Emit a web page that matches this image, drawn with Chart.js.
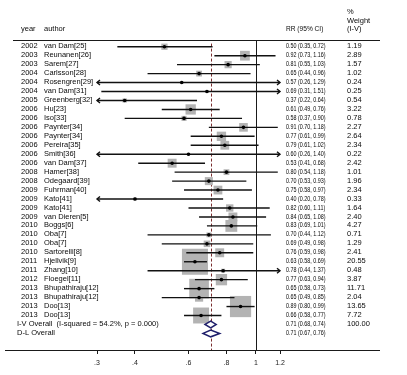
<!DOCTYPE html>
<html>
<head>
<meta charset="utf-8">
<script src="https://cdn.jsdelivr.net/npm/chart.js@4.4.1/dist/chart.umd.min.js"></script>
<style>
html,body{margin:0;padding:0;background:#fff;}
canvas{display:block;}
</style>
</head>
<body>
<canvas id="c" width="407" height="375" style="width:407px;height:375px"></canvas>
<script>
// ---- data ----
const years = ['2002','2003','2003','2004','2004','2004','2005','2006','2006','2006','2006','2006','2006','2006','2008','2008','2009','2009','2009','2009','2010','2010','2010','2010','2011','2011','2012','2013','2013','2013','2013'];
const authors = ['van Dam[25]','Reunanen[26]','Sarem[27]','Carlsson[28]','Rosengren[29]','van Dam[31]','Greenberg[32]','Hu[23]','Iso[33]','Paynter[34]','Paynter[34]','Pereira[35]','Smith[36]','van Dam[37]','Hamer[38]','Odegaard[39]','Fuhrman[40]','Kato[41]','Kato[41]','van Dieren[5]','Boggs[6]','Oba[7]','Oba[7]','Sartorelli[8]','Hjellvik[9]','Zhang[10]','Floegel[11]','Bhupathiraju[12]','Bhupathiraju[12]','Doo[13]','Doo[13]'];
const rr = [0.50,0.92,0.81,0.65,0.57,0.69,0.37,0.61,0.58,0.91,0.77,0.79,0.60,0.53,0.80,0.70,0.75,0.40,0.82,0.84,0.83,0.70,0.69,0.76,0.63,0.78,0.77,0.65,0.65,0.89,0.66];
const lo = [0.35,0.73,0.55,0.44,0.26,0.31,0.22,0.49,0.37,0.70,0.61,0.61,0.26,0.41,0.54,0.53,0.58,0.20,0.60,0.65,0.69,0.44,0.49,0.59,0.58,0.44,0.63,0.58,0.49,0.80,0.58];
const hi = [0.72,1.16,1.03,0.96,1.29,1.51,0.64,0.76,0.90,1.18,0.99,1.02,1.40,0.68,1.18,0.93,0.97,0.78,1.11,1.08,1.01,1.12,0.98,0.98,0.69,1.37,0.94,0.73,0.85,0.99,0.77];
const weights = [1.19,2.89,1.57,1.02,0.24,0.25,0.54,3.22,0.78,2.27,2.64,2.34,0.22,2.42,1.01,1.96,2.34,0.33,1.64,2.40,4.27,0.71,1.29,2.41,20.55,0.48,3.87,11.71,2.04,13.65,7.72];
const overallLabels = ['I-V Overall  (I-squared = 54.2%, p = 0.000)','D-L Overall'];
const overallRR = [0.71,0.71];
const overallLo = [0.68,0.67];
const overallHi = [0.74,0.76];
const overallWeight = ['100.00',''];
const tickValues = [0.3,0.4,0.6,0.8,1,1.2];
const tickLabels = ['.3','.4','.6','.8','1','1.2'];
const axisMin = 0.3, axisMax = 1.2;

// ---- presentation ----
const FONT = '7.5px "Liberation Sans", Arial, sans-serif';
const TXT = '#0a0a0a';
const nStudies = rr.length;

const dotData = rr.map((v,i)=>({x:v,y:i}));
const sqData = rr.map((v,i)=>({x:v,y:i}));
const sqRadius = weights.map(w => 5.74*Math.sqrt(w)/Math.SQRT2);

function fmt(v){return v.toFixed(2);}

const forestPlugin = {
  id:'forest',
  beforeDatasetsDraw(chart){
    const ctx = chart.ctx, xs = chart.scales.x, ys = chart.scales.y;
    const top = chart.chartArea.top, bot = chart.chartArea.bottom;
    ctx.save();
    ctx.strokeStyle = '#1a1a1a'; ctx.lineWidth = 1;
    ctx.beginPath(); ctx.moveTo(13, top+0.5); ctx.lineTo(380, top+0.5); ctx.stroke();
    ctx.beginPath(); ctx.moveTo(5, bot+0.5); ctx.lineTo(380, bot+0.5); ctx.stroke();
    const x1 = Math.round(xs.getPixelForValue(1))+0.5;
    ctx.beginPath(); ctx.moveTo(x1, top); ctx.lineTo(x1, bot); ctx.stroke();
    const xo = Math.round(xs.getPixelForValue(overallRR[0]))+0.5;
    ctx.strokeStyle = '#7a2e2e'; ctx.setLineDash([3,2]);
    ctx.beginPath(); ctx.moveTo(xo, ys.getPixelForValue(-0.35)); ctx.lineTo(xo, bot); ctx.stroke();
    ctx.setLineDash([]);
    ctx.fillStyle = TXT; ctx.font = FONT; ctx.textBaseline = 'middle'; ctx.textAlign = 'left';
    ctx.fillText('year', 21, 29);
    ctx.fillText('author', 44, 29);
    ctx.save(); ctx.translate(286,29); ctx.scale(0.88,1); ctx.fillText('RR (95% CI)',0,0); ctx.restore();
    ctx.fillText('%', 347, 12);
    ctx.fillText('Weight', 347, 20.5);
    ctx.fillText('(I-V)', 347, 29);
    for(let i=0;i<nStudies;i++){
      const y = ys.getPixelForValue(i) - 0.5;
      ctx.fillText(years[i], 21, y);
      ctx.fillText(authors[i], 44, y);
      ctx.save(); ctx.translate(286,y); ctx.scale(0.72,1);
      ctx.fillText(fmt(rr[i])+' ('+fmt(lo[i])+', '+fmt(hi[i])+')',0,0); ctx.restore();
      ctx.fillText(fmt(weights[i]), 347, y);
    }
    for(let j=0;j<2;j++){
      const y = ys.getPixelForValue(nStudies+j) - 0.5;
      ctx.fillText(overallLabels[j], 17, y);
      ctx.save(); ctx.translate(286,y); ctx.scale(0.72,1);
      ctx.fillText(fmt(overallRR[j])+' ('+fmt(overallLo[j])+', '+fmt(overallHi[j])+')',0,0); ctx.restore();
      if(overallWeight[j]) ctx.fillText(overallWeight[j], 347, y);
    }
    ctx.restore();
  },
  afterDatasetDraw(chart, args){
    if(args.index !== 1) return;
    const ctx = chart.ctx, xs = chart.scales.x, ys = chart.scales.y;
    ctx.save();
    ctx.strokeStyle = '#111'; ctx.lineWidth = 1.4; ctx.lineCap = 'butt';
    for(let i=0;i<nStudies;i++){
      const y = ys.getPixelForValue(i);
      const a = xs.getPixelForValue(Math.max(lo[i],axisMin));
      const b = xs.getPixelForValue(Math.min(hi[i],axisMax));
      ctx.beginPath(); ctx.moveTo(a,y); ctx.lineTo(b,y); ctx.stroke();
      if(lo[i] < axisMin){
        ctx.beginPath(); ctx.moveTo(a+3,y-2.5); ctx.lineTo(a,y); ctx.lineTo(a+3,y+2.5); ctx.stroke();
      }
      if(hi[i] > axisMax){
        ctx.beginPath(); ctx.moveTo(b-3,y-2.5); ctx.lineTo(b,y); ctx.lineTo(b-3,y+2.5); ctx.stroke();
      }
    }
    ctx.restore();
  },
  afterDatasetsDraw(chart){
    const ctx = chart.ctx, xs = chart.scales.x, ys = chart.scales.y;
    ctx.save();
    ctx.strokeStyle = '#1f1f6b'; ctx.lineWidth = 1.5; ctx.fillStyle = '#fff';
    for(let j=0;j<2;j++){
      const y = ys.getPixelForValue(nStudies+j);
      const a = xs.getPixelForValue(overallLo[j]);
      const c = xs.getPixelForValue(overallRR[j]);
      const b = xs.getPixelForValue(overallHi[j]);
      ctx.beginPath(); ctx.moveTo(a,y); ctx.lineTo(c,y-3.4); ctx.lineTo(b,y); ctx.lineTo(c,y+3.4); ctx.closePath();
      ctx.fill(); ctx.stroke();
    }
    ctx.restore();
  }
};

new Chart(document.getElementById('c'), {
  type:'scatter',
  data:{datasets:[
    {label:'estimate', data:dotData, pointStyle:'circle', pointRadius:1.8, backgroundColor:'#000', borderColor:'#000', borderWidth:0},
    {label:'weight', data:sqData, pointStyle:'rect', pointRadius:sqRadius, backgroundColor:'#b3b3b3', borderWidth:0}
  ]},
  options:{
    responsive:false, animation:false, devicePixelRatio:1, events:[],
    layout:{padding:{left:97, right:127, top:40, bottom:0}},
    plugins:{legend:{display:false}, tooltip:{enabled:false}},
    scales:{
      x:{type:'logarithmic', min:axisMin, max:axisMax,
        afterBuildTicks:(axis)=>{axis.ticks = tickValues.map(v=>({value:v}));},
        afterFit:(s)=>{s.height = 25;},
        grid:{display:true, drawOnChartArea:false, drawTicks:true, tickLength:4, color:'#1a1a1a', lineWidth:1},
        border:{display:false},
        ticks:{autoSkip:false, maxRotation:0, padding:5, color:'#222', font:{family:'"Liberation Sans", Arial, sans-serif', size:7},
          callback:(v,i)=>tickLabels[i]}
      },
      y:{type:'linear', reverse:true, min:-0.75, max:33.85, display:false}
    }
  },
  plugins:[forestPlugin]
});
</script>
</body>
</html>
